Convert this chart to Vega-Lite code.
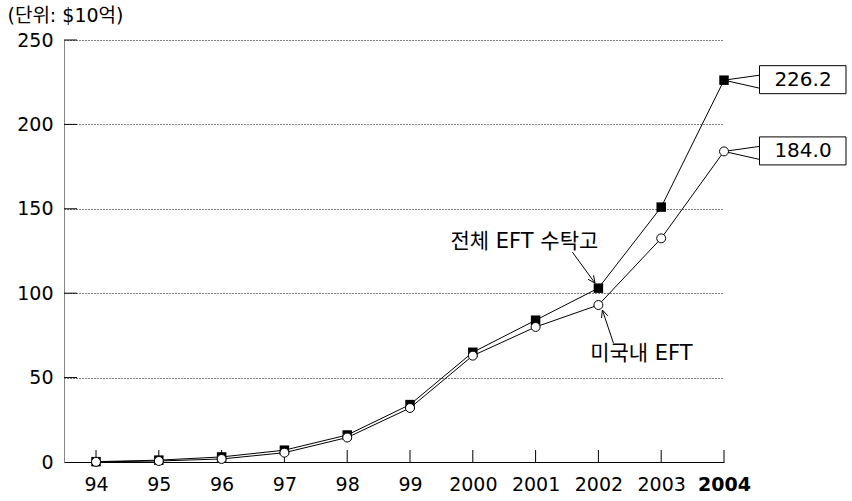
{
  "$schema": "https://vega.github.io/schema/vega-lite/v6.json",
  "width": 660,
  "height": 422,
  "autosize": {"type": "none"},
  "padding": {"left": 64, "top": 40, "right": 128, "bottom": 39},
  "background": "white",
  "config": {
    "view": {"stroke": null},
    "font": "DejaVu Sans, 'Noto Sans CJK KR'"
  },
  "datasets": {
    "eft": [
      {"year": 1994, "series": "전체 EFT 수탁고", "value": 0.2},
      {"year": 1995, "series": "전체 EFT 수탁고", "value": 1.1},
      {"year": 1996, "series": "전체 EFT 수탁고", "value": 3.0},
      {"year": 1997, "series": "전체 EFT 수탁고", "value": 7.0},
      {"year": 1998, "series": "전체 EFT 수탁고", "value": 16.0},
      {"year": 1999, "series": "전체 EFT 수탁고", "value": 34.0},
      {"year": 2000, "series": "전체 EFT 수탁고", "value": 65.0},
      {"year": 2001, "series": "전체 EFT 수탁고", "value": 84.0},
      {"year": 2002, "series": "전체 EFT 수탁고", "value": 103.0},
      {"year": 2003, "series": "전체 EFT 수탁고", "value": 151.0},
      {"year": 2004, "series": "전체 EFT 수탁고", "value": 226.2},
      {"year": 1994, "series": "미국내 EFT", "value": 0.1},
      {"year": 1995, "series": "미국내 EFT", "value": 0.6},
      {"year": 1996, "series": "미국내 EFT", "value": 1.8},
      {"year": 1997, "series": "미국내 EFT", "value": 5.5},
      {"year": 1998, "series": "미국내 EFT", "value": 14.5},
      {"year": 1999, "series": "미국내 EFT", "value": 32.0},
      {"year": 2000, "series": "미국내 EFT", "value": 63.0},
      {"year": 2001, "series": "미국내 EFT", "value": 80.0},
      {"year": 2002, "series": "미국내 EFT", "value": 93.0},
      {"year": 2003, "series": "미국내 EFT", "value": 132.5},
      {"year": 2004, "series": "미국내 EFT", "value": 184.0}
    ],
    "yticks": [
      {"tick": 50}, {"tick": 100}, {"tick": 150}, {"tick": 200}, {"tick": 250}
    ]
  },
  "data": {"name": "eft"},
  "encoding": {
    "x": {
      "field": "year",
      "type": "quantitative",
      "scale": {"domain": [1993.49, 2004], "nice": false, "zero": false},
      "axis": {
        "title": null,
        "values": [1994, 1995, 1996, 1997, 1998, 1999, 2000, 2001, 2002, 2003, 2004],
        "labelExpr": "datum.value < 2000 ? substring(toString(datum.value), 2) : toString(datum.value)",
        "labelFontSize": 19,
        "labelColor": "black",
        "labelFontWeight": {"condition": {"test": "datum.value == 2004", "value": "bold"}, "value": "normal"},
        "labelPadding": 13,
        "labelFlush": false,
        "labelOverlap": false,
        "grid": false,
        "ticks": false,
        "domainColor": "black",
        "domainWidth": 1
      }
    },
    "y": {
      "field": "value",
      "type": "quantitative",
      "scale": {"domain": [0, 250], "nice": false},
      "axis": {
        "title": "(단위: $10억)",
        "titleAngle": 0,
        "titleAlign": "left",
        "titleBaseline": "middle",
        "titleX": -57,
        "titleY": -25,
        "titleFontSize": 19,
        "titleFontWeight": "normal",
        "titleColor": "black",
        "values": [0, 50, 100, 150, 200, 250],
        "labelFontSize": 19,
        "labelColor": "black",
        "labelPadding": 11,
        "labelFlush": false,
        "grid": true,
        "gridDash": [1, 2],
        "gridColor": "black",
        "gridOpacity": 1,
        "gridWidth": 1,
        "ticks": false,
        "domainColor": "#888888",
        "domainWidth": 1
      }
    }
  },
  "layer": [
    {
      "transform": [{"filter": "datum.series == '전체 EFT 수탁고'"}],
      "mark": {"type": "point", "shape": "M0,0L0,-12", "size": 4, "filled": false, "stroke": "black", "strokeWidth": 1, "opacity": 1},
      "encoding": {"y": {"datum": 0, "type": "quantitative"}}
    },
    {
      "data": {"name": "yticks"},
      "mark": {"type": "point", "shape": "M0,0L13,0", "size": 4, "filled": false, "stroke": "black", "strokeWidth": 1, "opacity": 1},
      "encoding": {
        "x": {"value": 0},
        "y": {"field": "tick", "type": "quantitative"}
      }
    },
    {
      "mark": {"type": "line", "color": "black", "strokeWidth": 1},
      "encoding": {"detail": {"field": "series"}}
    },
    {
      "transform": [{"filter": "datum.year == 2004"}],
      "mark": {
        "type": "point",
        "shape": "M35.5,-14.5H122V13.5H35.5Z M0,0L35.5,-5 M0,0L35.5,8",
        "size": 4,
        "filled": false,
        "stroke": "black",
        "strokeWidth": 1,
        "opacity": 1,
        "clip": false
      }
    },
    {
      "transform": [{"filter": "datum.year == 2004"}],
      "mark": {"type": "text", "dx": 79, "dy": -0.5, "fontSize": 20, "align": "center", "baseline": "middle", "color": "black"},
      "encoding": {"text": {"field": "value", "format": ".1f"}}
    },
    {
      "transform": [{"filter": "datum.series == '전체 EFT 수탁고'"}],
      "mark": {"type": "point", "shape": "square", "filled": true, "color": "black", "size": 90, "opacity": 1}
    },
    {
      "transform": [{"filter": "datum.series == '미국내 EFT'"}],
      "mark": {"type": "point", "shape": "circle", "filled": true, "fill": "white", "stroke": "black", "strokeWidth": 1, "size": 80, "opacity": 1}
    },
    {
      "transform": [{"filter": "datum.series == '전체 EFT 수탁고' && datum.year == 2002"}],
      "mark": {
        "type": "point",
        "shape": "M-26,-36L-3.4,-5 M-4.9,-12.9L-3.4,-5L-10.4,-8.9",
        "size": 4,
        "filled": false,
        "stroke": "black",
        "strokeWidth": 1,
        "opacity": 1
      }
    },
    {
      "transform": [{"filter": "datum.series == '전체 EFT 수탁고' && datum.year == 2002"}],
      "mark": {"type": "text", "dx": -74, "dy": -46, "fontSize": 21, "align": "center", "baseline": "middle", "color": "black"},
      "encoding": {"text": {"field": "series"}}
    },
    {
      "transform": [{"filter": "datum.series == '미국내 EFT' && datum.year == 2002"}],
      "mark": {
        "type": "point",
        "shape": "M15,38L4,5 M3.1,13L4,5L9.5,10.8",
        "size": 4,
        "filled": false,
        "stroke": "black",
        "strokeWidth": 1,
        "opacity": 1
      }
    },
    {
      "transform": [{"filter": "datum.series == '미국내 EFT' && datum.year == 2002"}],
      "mark": {"type": "text", "dx": 43, "dy": 49, "fontSize": 21, "align": "center", "baseline": "middle", "color": "black"},
      "encoding": {"text": {"field": "series"}}
    }
  ]
}
